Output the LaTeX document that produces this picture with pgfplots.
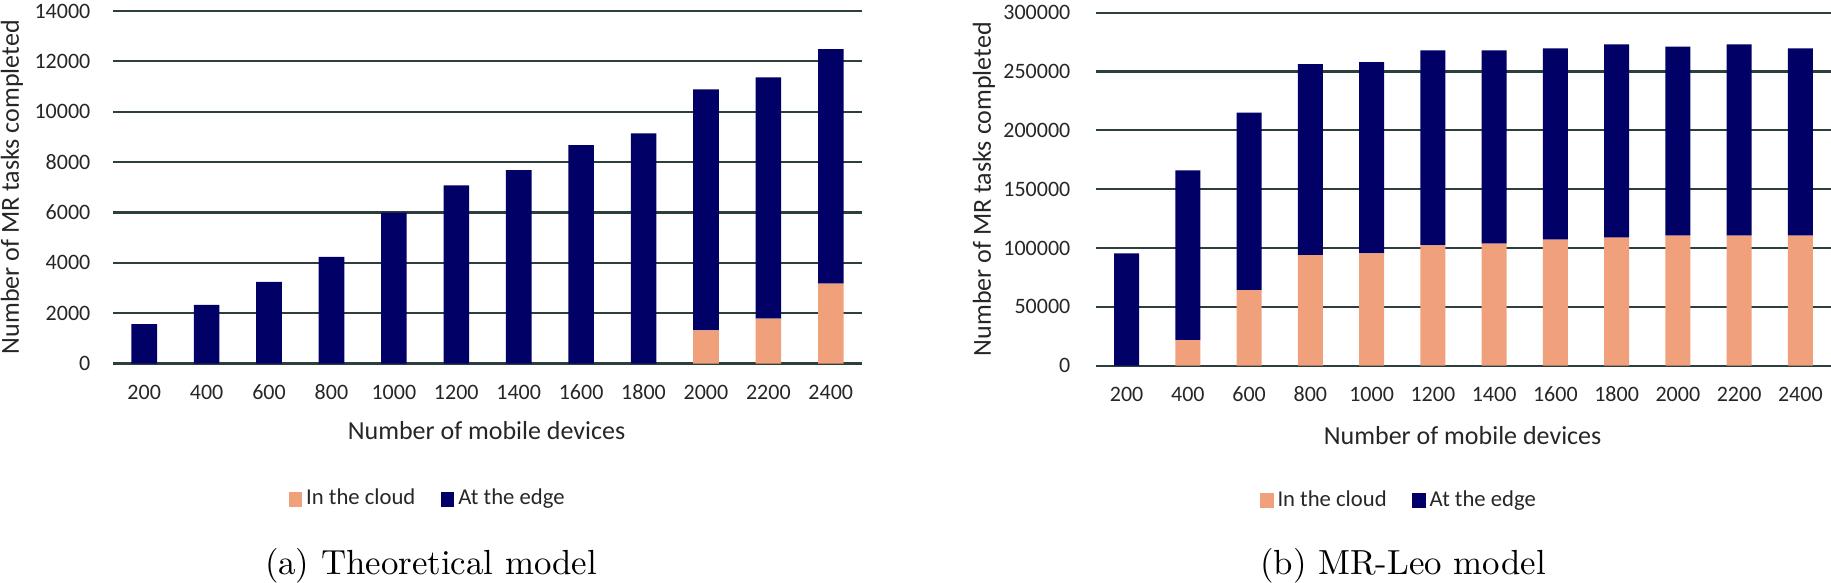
\documentclass[border=0pt]{standalone}
\usepackage{pgfplots}
\pgfplotsset{compat=1.18}
\usepackage{pgfplotstable}
\usepackage{fontspec}
\newfontfamily\carlito{Carlito}

\definecolor{edgeblue}{RGB}{0,0,102}
\definecolor{cloudsalmon}{RGB}{240,160,122}
\definecolor{gridgray}{RGB}{45,62,62}
\definecolor{txt}{RGB}{38,38,38}

% devices: 200,400,...,2400 -> idx 0..11
\pgfplotstableread{
idx cloud edge
0   0     1560
1   0     2330
2   0     3240
3   0     4230
4   0     5990
5   0     7070
6   0     7680
7   0     8670
8   0     9140
9   1320  9570
10  1780  9580
11  3170  9320
}\theo

\pgfplotstableread{
idx cloud  edge
0   0      95500
1   21800  144200
2   64300  150700
3   94000  162400
4   95500  162600
5   102300 165700
6   103700 164300
7   107100 162600
8   108800 164300
9   110500 160600
10  110500 162600
11  110500 159200
}\leo

\pgfplotsset{
  mrbars/.style={
    ybar stacked, bar width=0.41, scale only axis, anchor=south west,
    xmin=-0.5, xmax=11.5, ymin=0,
    xtick={0,...,11},
    xticklabels={200,400,600,800,1000,1200,1400,1600,1800,2000,2200,2400},
    axis line style={draw=none}, major tick length=0pt,
    ymajorgrids, grid style={gridgray, line width=0.65pt},
    scaled y ticks=false,
    /pgf/number format/fixed,
    /pgf/number format/precision=0,
    /pgf/number format/1000 sep={},
    /pgf/number format/assume math mode=true,
    tick label style={font=\carlito\fontsize{6.6}{7}\selectfont, text=txt},
    xticklabel style={anchor=center, yshift=-8.6pt},
    label style={font=\carlito\fontsize{7.8}{9}\selectfont, text=txt},
    xlabel={Number of mobile devices},
    ylabel={Number of MR tasks completed},
    legend columns=2,
    legend style={draw=none, fill=none, anchor=center, inner sep=0pt,
      font=\carlito\fontsize{6.8}{8}\selectfont, text=txt,
      nodes={inner sep=1.2pt},
      /tikz/every even column/.append style={column sep=6.5pt}},
    legend image code/.code={\fill[##1] (0pt,-2.3pt) rectangle (4pt,2.3pt);},
  }
}

\begin{document}
\begin{tikzpicture}
\path[use as bounding box] (0,0) rectangle (549.3pt,174.6pt);

\begin{axis}[mrbars,
  at={(33.9pt,65.55pt)}, width=224.7pt, height=105.75pt,
  ymax=14000, ytick={0,2000,...,14000},
  yticklabel style={inner sep=0pt, xshift=-6.6pt},
  xlabel style={at={(axis description cs:0.4987,-0.1915)}, anchor=center},
  ylabel style={at={(axis description cs:-0.1349,0.5)}, anchor=center},
  legend style={at={(axis description cs:0.4215,-0.3853)}},
]
\addplot[fill=cloudsalmon, draw=none] table[x=idx, y=cloud] {\theo};
\addplot[fill=edgeblue, draw=none] table[x=idx, y=edge] {\theo};
\legend{In the cloud, At the edge}
\end{axis}

\begin{axis}[mrbars,
  at={(328.8pt,64.89pt)}, width=220.5pt, height=105.9pt,
  ymax=300000, ytick={0,50000,...,300000},
  yticklabel style={inner sep=0pt, xshift=-7.5pt},
  xlabel style={at={(axis description cs:0.4988,-0.198)}, anchor=center},
  ylabel style={at={(axis description cs:-0.1524,0.5)}, anchor=center},
  legend style={at={(axis description cs:0.4136,-0.3824)}},
]
\addplot[fill=cloudsalmon, draw=none] table[x=idx, y=cloud] {\leo};
\addplot[fill=edgeblue, draw=none] table[x=idx, y=edge] {\leo};
\legend{In the cloud, At the edge}
\end{axis}

\node[anchor=center, inner sep=0pt, font=\fontsize{10.45}{12}\selectfont] at (129.3pt,5pt) {(a) Theoretical model};
\node[anchor=center, inner sep=0pt, font=\fontsize{10.45}{12}\selectfont] at (420.9pt,5pt) {(b) MR-Leo model};
\end{tikzpicture}
\end{document}
